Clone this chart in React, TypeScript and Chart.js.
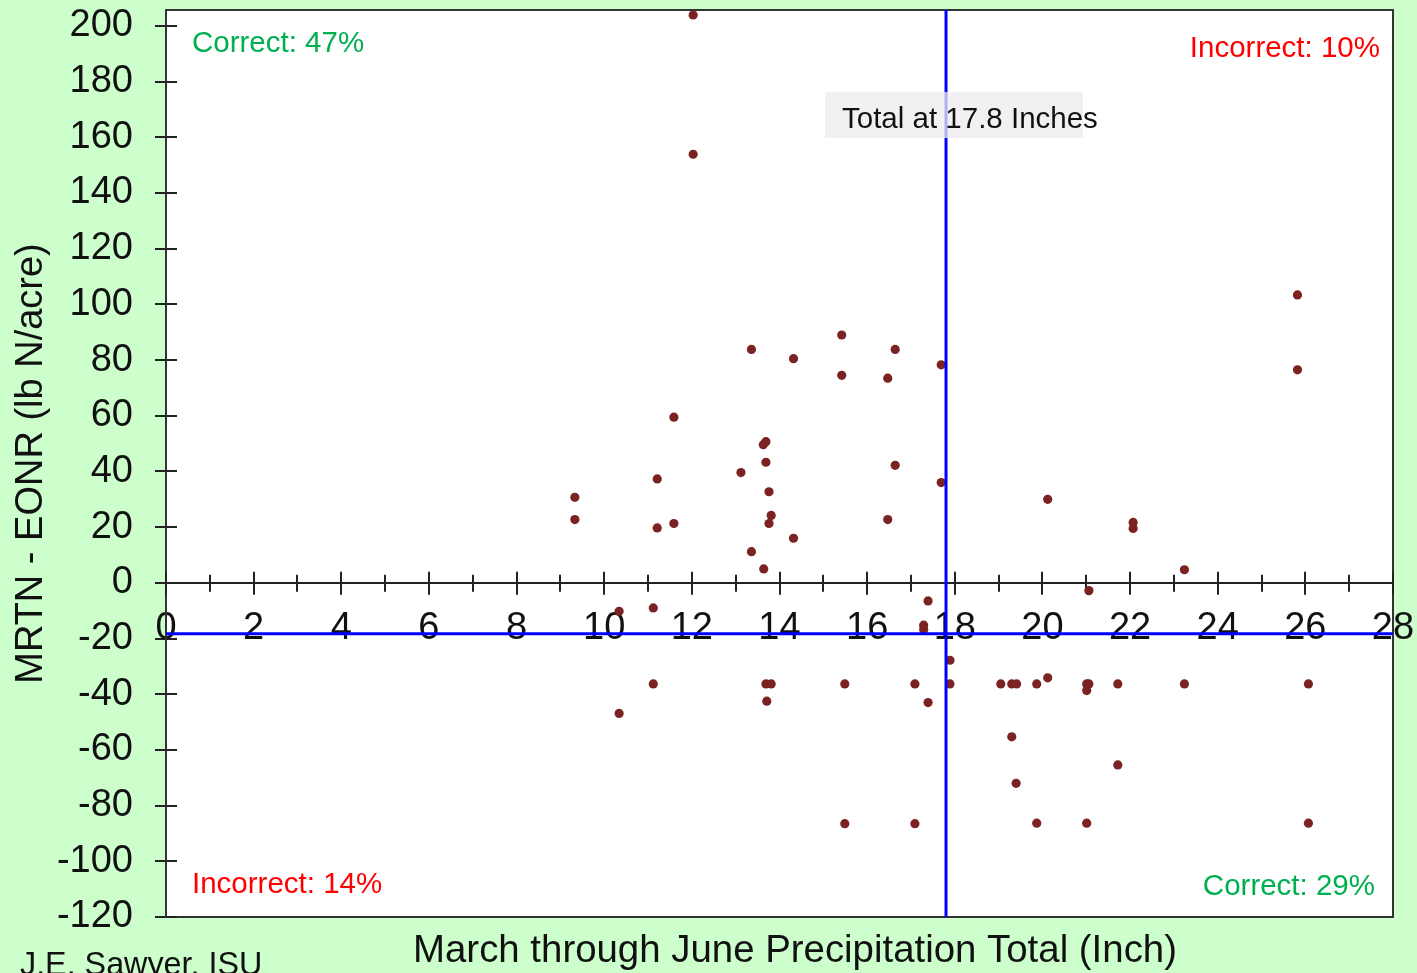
import React, { useEffect, useRef } from "react";
import { Chart, registerables } from "chart.js";

Chart.register(...registerables);

// ---- data ----
const precipInches: number[] = [
  12.03, 12.03, 25.82, 25.82, 13.36, 15.42, 14.32, 16.64, 15.42, 16.47,
  17.69, 11.59, 13.69, 13.63, 13.69, 13.12, 16.64, 11.21, 9.33, 13.76,
  17.69, 9.33, 11.21, 11.59, 13.81, 13.76, 16.47, 14.32, 13.36, 13.64,
  17.39, 20.12, 22.07, 22.07, 23.24, 21.06, 10.34, 11.12, 17.29, 17.29,
  17.89, 11.12, 13.69, 13.81, 15.49, 17.09, 17.89, 19.05, 19.3, 19.41,
  19.87, 20.12, 21.01, 21.06, 21.01, 21.72, 23.24, 26.07, 13.71, 17.39,
  10.34, 19.3, 21.72, 19.4, 15.49, 17.09, 19.87, 21.01, 26.07,
];
const mrtnMinusEonr: number[] = [
  203.9, 153.9, 103.4, 76.5, 83.8, 89.0, 80.5, 83.8, 74.5, 73.5,
  78.3, 59.5, 50.7, 49.6, 43.3, 39.6, 42.2, 37.3, 30.7, 32.7,
  36.0, 22.7, 19.7, 21.3, 24.2, 21.3, 22.7, 16.0, 11.2, 5.0,
  -6.5, 30.0, 21.7, 19.5, 4.7, -2.8, -10.2, -9.0, -15.2, -16.8,
  -27.8, -36.3, -36.3, -36.3, -36.3, -36.3, -36.3, -36.3, -36.3, -36.3,
  -36.3, -34.1, -36.3, -36.3, -38.7, -36.3, -36.3, -36.3, -42.5, -43.0,
  -46.9, -55.3, -65.4, -72.0, -86.5, -86.5, -86.3, -86.3, -86.3,
];
const xMin = 0;
const xMax = 28;
const yMin = -120;
const yMax = 205.7;
const yTickStep = 20;
const xTickStep = 1;
const thresholdPrecip = 17.8;
const thresholdN = -18.3;
const quadrantLabels: string[] = ["Correct: 47%", "Incorrect: 10%", "Incorrect: 14%", "Correct: 29%"];
const boxLabel = "Total at 17.8 Inches";
const xTitle = "March through June Precipitation Total (Inch)";
const yTitle = "MRTN - EONR (lb N/acre)";
const credit = "J.E. Sawyer, ISU";

const FONT = "'Liberation Sans', Arial, sans-serif";
const GREEN = "#00b050";
const RED = "#ff0000";

const decorPlugin = {
  id: "decor",
  beforeDraw(chart: any) {
    const { ctx, chartArea: ca, width, height } = chart;
    ctx.save();
    ctx.fillStyle = "#ccffcc";
    ctx.fillRect(0, 0, width, height);
    ctx.fillStyle = "#ffffff";
    ctx.fillRect(ca.left, ca.top, ca.right - ca.left, ca.bottom - ca.top);
    ctx.restore();
  },
  beforeDatasetsDraw(chart: any) {
    const { ctx, chartArea: ca, scales } = chart;
    const xs = scales.x;
    const ys = scales.y;
    ctx.save();
    // plot border
    ctx.strokeStyle = "#333333";
    ctx.lineWidth = 2;
    ctx.strokeRect(ca.left, ca.top, ca.right - ca.left, ca.bottom - ca.top);
    // y ticks inward part
    ctx.strokeStyle = "#222222";
    ctx.lineWidth = 2;
    for (const t of ys.ticks) {
      const py = Math.round(ys.getPixelForValue(t.value));
      ctx.beginPath();
      ctx.moveTo(ca.left, py);
      ctx.lineTo(ca.left + 11, py);
      ctx.stroke();
    }
    // x ticks crossing the axis line at y = 0
    const y0 = ys.getPixelForValue(0);
    for (const t of xs.ticks) {
      const px = Math.round(xs.getPixelForValue(t.value));
      const major = Math.round(t.value) % 2 === 0;
      const up = major ? 11 : 8;
      const down = major ? 12 : 9;
      ctx.beginPath();
      ctx.moveTo(px, y0 - up);
      ctx.lineTo(px, y0 + down);
      ctx.stroke();
    }
    ctx.restore();
  },
  afterDatasetsDraw(chart: any) {
    const { ctx, chartArea: ca, scales } = chart;
    const xs = scales.x;
    ctx.save();
    // quadrant labels
    ctx.font = `29.5px ${FONT}`;
    ctx.textBaseline = "alphabetic";
    ctx.textAlign = "left";
    ctx.fillStyle = GREEN;
    ctx.fillText(quadrantLabels[0], ca.left + 26, ca.top + 42);
    ctx.textAlign = "right";
    ctx.fillStyle = RED;
    ctx.fillText(quadrantLabels[1], ca.right - 13, ca.top + 47);
    ctx.textAlign = "left";
    ctx.fillText(quadrantLabels[2], ca.left + 26, ca.bottom - 24);
    ctx.textAlign = "right";
    ctx.fillStyle = GREEN;
    ctx.fillText(quadrantLabels[3], ca.right - 18, ca.bottom - 22);

    // threshold box
    const vx = xs.getPixelForValue(thresholdPrecip);
    const bx = vx - 121;
    const by = 92;
    ctx.fillStyle = "rgba(236,236,236,0.75)";
    ctx.fillRect(bx, by, 258, 46);
    ctx.textAlign = "left";
    ctx.fillStyle = "#111111";
    ctx.fillText(boxLabel, bx + 17, by + 36);

    // x axis title
    ctx.font = `38.4px ${FONT}`;
    ctx.textAlign = "center";
    ctx.fillStyle = "#111111";
    ctx.fillText(xTitle, 795, 962);

    // credit
    ctx.font = `32.3px ${FONT}`;
    ctx.textAlign = "left";
    ctx.fillText(credit, 20, 975);
    ctx.restore();
  },
};

export default function App() {
  const ref = useRef<HTMLCanvasElement | null>(null);

  useEffect(() => {
    if (!ref.current) return;
    const points = precipInches.map((x, i) => ({ x, y: mrtnMinusEonr[i] }));
    const chart = new Chart(ref.current, {
      type: "scatter",
      data: {
        datasets: [
          {
            type: "line",
            label: "threshold N",
            data: [
              { x: xMin, y: thresholdN },
              { x: xMax, y: thresholdN },
            ],
            borderColor: "#0000ff",
            borderWidth: 3,
            pointRadius: 0,
            order: 0,
          } as any,
          {
            type: "line",
            label: "threshold precip",
            data: [
              { x: thresholdPrecip, y: yMin },
              { x: thresholdPrecip, y: yMax },
            ],
            borderColor: "#0000ff",
            borderWidth: 3,
            pointRadius: 0,
            order: 0,
          } as any,
          {
            label: "sites",
            data: points,
            backgroundColor: "#7b2323",
            borderWidth: 0,
            pointRadius: 4.6,
            order: 1,
          },
        ],
      },
      options: {
        animation: false,
        responsive: true,
        maintainAspectRatio: false,
        layout: { padding: { left: 0, top: 10, right: 24, bottom: 56 } },
        plugins: { legend: { display: false }, tooltip: { enabled: false } },
        scales: {
          x: {
            type: "linear",
            position: { y: 0 } as any,
            min: xMin,
            max: xMax,
            afterFit: (s: any) => {
              s.paddingLeft = 0;
              s.paddingRight = 0;
              s.paddingTop = 0;
              s.paddingBottom = 0;
            },
            ticks: {
              stepSize: xTickStep,
              autoSkip: false,
              maxRotation: 0,
              minRotation: 0,
              padding: 12,
              color: "#111111",
              font: { family: FONT, size: 38 },
              callback: (v: any) => (Math.round(v) % 2 === 0 ? String(v) : ""),
            },
            grid: { drawOnChartArea: false, drawTicks: true, tickLength: 11, color: "rgba(0,0,0,0)" },
            border: { display: true, color: "#222222", width: 2 },
          },
          y: {
            type: "linear",
            position: "left",
            min: yMin,
            max: yMax,
            afterFit: (s: any) => {
              s.width = 166;
              s.paddingTop = 0;
              s.paddingBottom = 0;
              s.paddingLeft = 0;
              s.paddingRight = 0;
            },
            ticks: {
              stepSize: yTickStep,
              includeBounds: false,
              padding: 22,
              color: "#111111",
              font: { family: FONT, size: 38 },
            },
            grid: { drawOnChartArea: false, drawTicks: true, tickLength: 11, color: "#222222", lineWidth: 2 },
            border: { display: true, color: "#333333", width: 2 },
            title: {
              display: true,
              text: yTitle,
              color: "#111111",
              font: { family: FONT, size: 38 },
              padding: { top: 9, bottom: 0 },
            },
          },
        },
      },
      plugins: [decorPlugin],
    });
    return () => chart.destroy();
  }, []);

  return (
    <div style={{ position: "fixed", left: 0, top: 0, width: 1417, height: 973, background: "#ccffcc" }}>
      <canvas ref={ref} />
    </div>
  );
}
